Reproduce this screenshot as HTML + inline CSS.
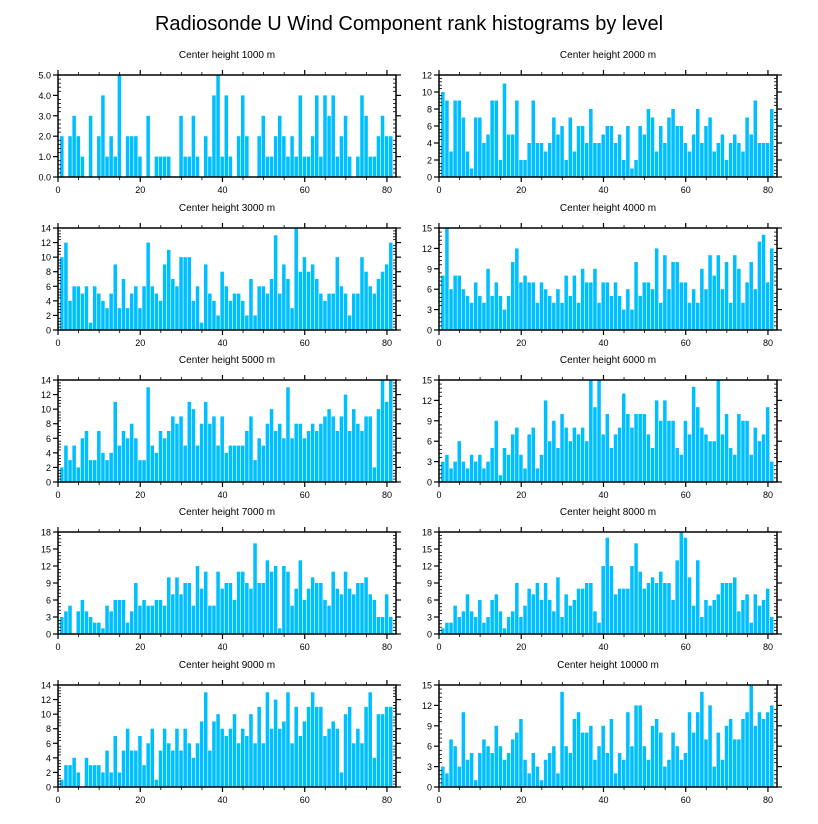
<!DOCTYPE html>
<html><head><meta charset="utf-8"><style>
body{margin:0;background:#fff;}
svg{display:block;font-family:"Liberation Sans",sans-serif;}
</style></head><body>
<svg id="chart" width="818" height="824" viewBox="0 0 818 824" xmlns="http://www.w3.org/2000/svg">
<text x="409" y="30" text-anchor="middle" font-size="20">Radiosonde U Wind Component rank histograms by level</text>
</svg>
<script>
const levels = ["1000","2000","3000","4000","5000","6000","7000","8000","9000","10000"];
const yMaxes = [5,12,14,15,14,15,18,18,14,15];
const ySteps = [1,2,2,3,2,3,3,3,2,3];
const xTicks = [0,20,40,60,80];
const c1000 = [2,0,2,3,2,1,0,3,0,2,4,1,2,1,5,0,2,2,2,1,0,3,0,1,1,1,1,0,0,3,1,1,3,1,0,2,1,4,5,1,4,1,0,2,4,2,0,0,2,3,1,1,2,3,2,1,2,1,4,1,1,2,4,1,4,3,4,1,2,3,1,0,1,4,3,1,1,2,3,2,2];
const c2000 = [10,9,3,9,9,7,3,1,7,7,4,5,9,9,2,11,5,5,9,2,2,4,9,4,4,3,4,7,5,6,2,7,3,6,6,4,8,4,4,5,6,6,4,5,2,6,1,2,6,5,8,7,3,6,4,7,8,6,6,4,3,5,8,4,6,7,3,4,5,2,4,5,4,3,7,5,9,4,4,4,8];
const c3000 = [10,12,4,6,6,5,6,1,6,5,4,3,5,9,3,7,3,5,6,3,6,12,6,5,4,9,11,7,6,10,10,10,4,6,1,9,5,4,2,8,6,4,5,5,4,2,7,2,6,6,5,7,13,5,9,7,3,14,8,10,8,9,7,5,4,5,5,10,6,5,2,5,5,10,8,6,5,7,8,9,12];
const c4000 = [8,15,6,8,8,6,5,4,7,5,4,9,5,7,5,3,5,10,12,7,8,7,7,4,7,6,5,4,6,4,8,5,8,4,9,7,7,9,4,7,7,5,7,5,3,6,3,10,5,7,7,6,12,4,11,6,10,10,7,7,4,6,4,9,6,11,8,11,6,10,4,11,9,4,7,10,6,13,14,7,12];
const c5000 = [2,5,3,5,2,6,7,3,3,7,4,3,4,11,5,7,6,8,6,3,3,13,5,4,7,6,7,9,8,9,5,11,10,5,8,11,8,9,5,9,4,5,5,5,5,7,9,3,6,5,8,10,7,8,6,13,6,8,8,6,7,8,7,8,9,10,9,7,9,12,7,10,8,7,9,9,2,10,14,11,14];
const c6000 = [3,4,2,3,6,3,2,4,3,4,2,3,5,9,1,5,4,7,8,4,2,7,8,2,4,12,6,9,5,10,8,6,8,7,8,6,15,11,15,7,10,5,7,8,13,10,8,10,10,10,7,5,12,9,12,9,9,5,4,9,7,14,11,8,7,6,6,15,7,10,5,4,10,9,9,4,8,6,7,11,3];
const c7000 = [3,4,5,0,4,6,4,3,2,2,1,5,4,6,6,6,2,4,9,5,6,5,5,6,6,5,10,7,10,7,9,9,5,12,8,11,5,5,11,8,9,9,6,11,11,9,8,16,9,9,13,11,12,1,12,11,5,8,13,6,8,10,9,9,6,5,11,8,7,11,8,7,9,9,10,7,6,3,3,7,3];
const c8000 = [1,2,2,5,3,4,7,4,3,6,2,3,6,7,4,1,3,4,9,3,5,8,7,9,6,9,6,4,10,3,7,5,6,8,8,9,9,4,2,12,17,12,7,8,8,8,12,16,11,8,9,10,9,11,9,9,6,13,18,17,10,5,13,3,6,5,6,7,9,9,9,10,4,6,7,2,7,5,6,8,3];
const c9000 = [1,3,3,4,2,0,4,3,3,3,2,5,2,7,2,5,8,5,5,7,3,6,8,1,5,8,6,5,8,5,8,6,4,6,9,13,5,9,10,8,7,8,10,6,8,7,10,6,11,6,13,8,12,8,9,13,6,11,7,9,11,13,11,11,7,8,9,8,2,10,11,6,8,6,11,13,4,10,10,11,11];
const c10000 = [3,2,7,6,3,11,4,5,1,5,7,6,5,9,6,4,5,7,8,10,4,2,5,3,1,4,5,6,2,14,6,5,10,11,8,8,9,4,6,9,5,10,2,5,4,11,6,12,12,6,4,9,10,8,3,4,8,6,4,5,11,8,11,14,7,12,3,8,4,9,10,7,7,10,11,15,9,11,10,11,12];
const counts = [c1000,c2000,c3000,c4000,c5000,c6000,c7000,c8000,c9000,c10000];

const NS = "http://www.w3.org/2000/svg";
const svg = document.getElementById('chart');
const XMAX = 82.2;
const PW = 338, PH = 102;
const colX = [58, 439];
const rowY = [75, 228, 380, 532, 685];
function mk(tag, attrs, parent){const e=document.createElementNS(NS,tag);for(const k in attrs)e.setAttribute(k,attrs[k]);parent.appendChild(e);return e;}

counts.forEach((data, p) => {
  const px = colX[p%2], py = rowY[Math.floor(p/2)];
  const yMax = yMaxes[p], yStep = ySteps[p];
  const xs = v => px + v / XMAX * PW;
  const ys = v => py + PH - v / yMax * PH;
  const g = mk('g', {}, svg);
  
  
  const t = mk('text', {x: px + PW/2, y: py - 17, 'text-anchor':'middle', 'font-size':'10'}, g);
  
  
  t.textContent = 'Center height ' + levels[p] + ' m';
  data.forEach((v, i) => {
    if (v <= 0) return;
    const x0 = xs(i + 0.5), x1 = xs(i + 1.5);
    const r = mk('rect', {x: x0, y: ys(v), width: Math.max(0.5, x1 - x0 - 0.6), height: ys(0) - ys(v), fill:'#00BFFF'}, g);
    
    
  });
  const fr = mk('rect', {x: px, y: py, width: PW, height: PH, fill:'none', stroke:'#000', 'stroke-width':'1.5'}, g);
  
  
  // y ticks
  const yMinor = yStep / 5;
  for (let v = 0; v <= yMax + 1e-9; v += yMinor) {
    const maj = Math.abs(v / yStep - Math.round(v / yStep)) < 1e-6;
    const y = ys(v);
    if (maj) {
      mk('line', {x1: px - 5, x2: px, y1: y, y2: y, stroke:'#000', 'stroke-width':'1.2'}, g);
      mk('line', {x1: px + PW, x2: px + PW + 5, y1: y, y2: y, stroke:'#000', 'stroke-width':'1.2'}, g);
      const lb = mk('text', {x: px - 7, y: y + 3.5, 'text-anchor':'end', 'font-size':'9'}, g);
      
      
      lb.textContent = p === 0 ? v.toFixed(1) : Math.round(v);
    } else {
      mk('line', {x1: px, x2: px + 3, y1: y, y2: y, stroke:'#000', 'stroke-width':'0.8'}, g);
      mk('line', {x1: px + PW - 3, x2: px + PW, y1: y, y2: y, stroke:'#000', 'stroke-width':'0.8'}, g);
    }
  }
  // x ticks
  for (let v = 0; v <= 80; v += 5) {
    const x = xs(v);
    const maj = v % 20 === 0;
    const L = maj ? 5 : 3;
    mk('line', {x1: x, x2: x, y1: py + PH, y2: py + PH + L, stroke:'#000', 'stroke-width': maj ? '1.2' : '0.8'}, g);
    mk('line', {x1: x, x2: x, y1: py - L, y2: py, stroke:'#000', 'stroke-width': maj ? '1.2' : '0.8'}, g);
  }
  xTicks.forEach(v => {
    const lb = mk('text', {x: xs(v), y: py + PH + 16, 'text-anchor':'middle', 'font-size':'9'}, g);
    
    
    lb.textContent = v;
  });
});
</script>
</body></html>
